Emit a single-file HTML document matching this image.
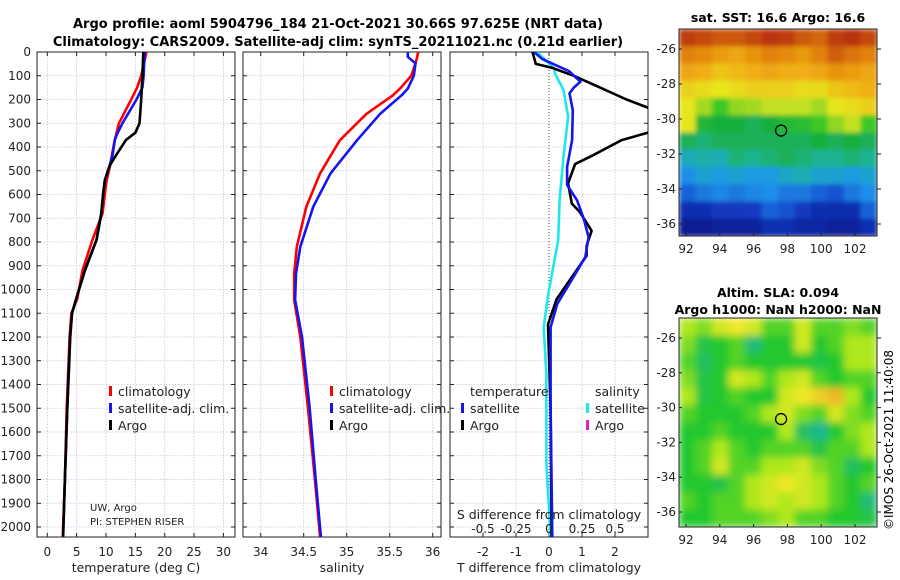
<!DOCTYPE html>
<html><head><meta charset="utf-8"><style>
html,body{margin:0;padding:0;background:#fff;}
svg{display:block;font-family:"DejaVu Sans","Liberation Sans",sans-serif;}
</style></head><body>
<svg id="c" width="900" height="580" viewBox="0 0 900 580">
<defs>
<clipPath id="cp1"><rect x="37" y="52" width="198" height="485"/></clipPath>
<clipPath id="cp2"><rect x="243" y="52" width="198" height="485"/></clipPath>
<clipPath id="cp3"><rect x="450" y="52" width="198" height="485"/></clipPath>
<clipPath id="cm1"><rect x="679" y="29" width="198" height="207"/></clipPath>
<clipPath id="cm2"><rect x="679" y="318" width="198" height="209"/></clipPath>
<filter id="b1" x="0" y="0" width="1" height="1"><feGaussianBlur stdDeviation="2.5" edgeMode="duplicate"/></filter>
<filter id="b2" x="0" y="0" width="1" height="1"><feGaussianBlur stdDeviation="4" edgeMode="duplicate"/></filter>
</defs>
<text x="338" y="28" text-anchor="middle" font-size="13" font-weight="bold">Argo profile: aoml 5904796_184 21-Oct-2021 30.66S 97.625E (NRT data)</text>
<text x="338" y="46" text-anchor="middle" font-size="13" font-weight="bold">Climatology: CARS2009. Satellite-adj clim: synTS_20211021.nc (0.21d earlier)</text>
<text x="778" y="22" text-anchor="middle" font-size="12.5" font-weight="bold">sat. SST: 16.6 Argo: 16.6</text>
<text x="778" y="297" text-anchor="middle" font-size="12.5" font-weight="bold">Altim. SLA: 0.094</text>
<text x="778" y="314" text-anchor="middle" font-size="12.5" font-weight="bold">Argo h1000: NaN h2000: NaN</text>
<text transform="translate(893,440) rotate(-90)" text-anchor="middle" font-size="12">©IMOS 26-Oct-2021 11:40:08</text>
<g id="g"></g>
</svg>
<script>
// ---- data ----
const tDepth   = [0,100,150,200,300,340,370,435,480,540,600,680,790,920,1040,1100,1200,1500,1800,2000,2040];
const tClim    = [16.9,16.0,15.3,14.3,12.2,11.8,11.5,11.0,10.7,10.1,9.8,9.4,7.7,6.0,5.1,4.1,3.8,3.3,3.0,2.7,2.65];
const tSat     = [16.6,16.4,16.2,15.2,12.8,12.0,11.5,11.1,10.6,9.8,9.5,9.2,8.4,6.4,4.9,4.2,3.9,3.4,3.0,2.75,2.7];
const tArgo    = [16.35,16.2,16.1,16.0,15.7,15.0,13.4,11.7,10.6,9.8,9.5,9.2,8.4,6.4,4.9,4.2,3.9,3.4,3.0,2.75,2.7];
const sDepth   = [0,20,48,100,154,182,260,372,512,652,820,933,1044,1200,1500,1800,2000,2040];
const sClim    = [35.83,35.82,35.8,35.75,35.62,35.54,35.23,34.92,34.69,34.53,34.42,34.39,34.39,34.46,34.55,34.63,34.68,34.69];
const sSat     = [35.71,35.71,35.8,35.78,35.71,35.64,35.39,35.12,34.81,34.61,34.46,34.41,34.4,34.48,34.57,34.64,34.69,34.7];
const dDepth   = [0,30,55,80,125,150,174,245,371,484,560,624,700,779,863,934,1060,1159,1500,2040];
const dTSat    = [-0.45,-0.2,0.2,0.6,0.95,0.75,0.62,0.72,0.7,0.55,0.55,0.85,1.05,1.2,1.1,0.8,0.25,0.05,0.05,0.1];
const dADepth  = [0,50,67,100,150,200,245,332,371,435,472,553,638,675,753,816,858,928,1041,1147,1500,2040];
const dTArgo   = [-0.5,-0.4,0.1,0.75,1.55,2.35,3.2,3.2,2.2,1.33,0.79,0.58,0.69,0.94,1.29,1.14,1.14,0.79,0.23,-0.03,0.05,0.08];
const dSDepth  = [0,70,90,160,272,441,624,793,1018,1159,1357,1737,1920,2040];
const dSSat    = [-0.09,0.04,0.045,0.11,0.145,0.11,0.08,0.07,-0.005,-0.04,-0.02,-0.02,0,0.01];
const depthTicks = [0,100,200,300,400,500,600,700,800,900,1000,1100,1200,1300,1400,1500,1600,1700,1800,1900,2000];
const tTicks = [0,5,10,15,20,25,30];
const sTicks = [34,34.5,35,35.5,36];
const sTickLabels = ["34","34.5","35","35.5","36"];
const dTicks = [-2,-1,0,1,2];
const dsTicks = [-0.5,-0.25,0,0.25,0.5];
const lonTicks = [92,94,96,98,100,102];
const latTicks = [-26,-28,-30,-32,-34,-36];
const argoLon = 97.625, argoLat = -30.66;
const sstGrid = [
[.9,.88,.86,.86,.88,.92,.9,.86,.84,.9,.93,.88],
[.8,.78,.74,.72,.76,.8,.78,.75,.8,.85,.82,.8],
[.72,.7,.66,.68,.7,.72,.7,.7,.72,.76,.74,.72],
[.64,.62,.6,.62,.64,.64,.64,.62,.62,.66,.68,.7],
[.6,.56,.5,.55,.56,.58,.58,.58,.56,.6,.62,.64],
[.6,.44,.42,.42,.4,.42,.45,.46,.5,.55,.58,.5],
[.4,.38,.4,.4,.4,.4,.4,.4,.42,.4,.42,.4],
[.32,.34,.33,.38,.36,.38,.4,.38,.36,.36,.38,.36],
[.26,.3,.28,.3,.28,.28,.31,.33,.3,.3,.28,.3],
[.2,.23,.25,.23,.25,.26,.23,.23,.2,.18,.23,.26],
[.1,.1,.13,.13,.14,.2,.18,.13,.1,.1,.1,.2],
[.03,.03,.05,.05,.05,.1,.1,.07,.07,.05,.05,.1]];
const slaGrid = [
[.8,.7,.9,1,.9,.6,.6,.9,.6,.6,.7,.6],
[.7,.4,.5,.6,.2,.5,.5,.9,.5,.6,.8,.8],
[.6,.3,.5,.6,.5,.5,.5,.5,.4,.5,.8,.8],
[.7,.4,.5,.9,.8,.6,.8,.9,.6,.5,.6,.6],
[.8,.4,.5,.6,.5,.5,.9,1,1.1,1.2,.8,.5],
[.6,.5,.5,.5,.6,.8,.9,.7,.6,.9,.7,.6],
[.5,.5,.6,.5,.5,.5,.8,.3,.1,.5,.7,.8],
[.5,.6,.8,.6,.5,.6,.6,.6,.4,.6,.6,.8],
[.5,.6,.9,.6,.6,.8,.8,.9,.7,.6,.3,.5],
[.5,.5,.4,.6,.8,.9,1,.9,.8,.6,.5,.6],
[.6,.5,.6,.6,.8,.9,.8,.9,.8,.6,.5,.2],
[.5,.5,.6,.6,.6,.7,.8,.6,.6,.5,.5,.4]];

// ---- axes ----
const yD = d => 52 + d*0.2375;
const xT = v => 47.3 + v*5.87;
const xS = v => 260.7 + (v-34)*86;
const xDT = v => 549 + v*33;
const xDS = v => xDT(v*4);
const NS = "http://www.w3.org/2000/svg";
const G = document.getElementById('g');
function el(tag, attrs, parent, txt){
  const e = document.createElementNS(NS, tag);
  for (const k in attrs) e.setAttribute(k, attrs[k]);
  if (txt !== undefined) e.textContent = txt;
  (parent||G).appendChild(e); return e;
}

const panels = [
 {x0:37, name:'temperature', ticks:tTicks, fx:xT, labels:tTicks.map(String)},
 {x0:243, name:'salinity', ticks:sTicks, fx:xS, labels:sTickLabels},
 {x0:450, name:'difference', ticks:dTicks, fx:xDT, labels:dTicks.map(String)}
];
panels.forEach((p, i) => {
  const g = el('g', {});
  
  
  depthTicks.forEach(d => {
    const l = el('line', {x1:p.x0, x2:p.x0+198, y1:yD(d), y2:yD(d), stroke:'#c4c4dc', 'stroke-width':0.8, 'stroke-dasharray':'1.5,1.5'}, g);
    
    
    el('line', {x1:p.x0, x2:p.x0+4, y1:yD(d), y2:yD(d), stroke:'#222'}, g);
    el('line', {x1:p.x0+198, x2:p.x0+194, y1:yD(d), y2:yD(d), stroke:'#222'}, g);
  });
  p.ticks.forEach((t, j) => {
    const x = p.fx(t);
    if (!(i===2 && t===0)) {
      const l = el('line', {x1:x, x2:x, y1:52, y2:537, stroke:'#c4c4dc', 'stroke-width':0.8, 'stroke-dasharray':'1.5,1.5'}, g);
      
      
    }
    el('line', {x1:x, x2:x, y1:537, y2:533, stroke:'#222'}, g);
    el('line', {x1:x, x2:x, y1:52, y2:56, stroke:'#222'}, g);
    const tl = el('text', {x:x, y:556, 'text-anchor':'middle', 'font-size':12, fill:'#222'}, g, p.labels[j]);
    
    
  });
  const box = el('rect', {x:p.x0, y:52, width:198, height:485, fill:'none', stroke:'#222', 'stroke-width':1}, g);
  
  
});
depthTicks.forEach(d => {
  const t = el('text', {x:31, y:yD(d)+4, 'text-anchor':'end', 'font-size':12, fill:'#222'}, G, String(d));
  
  
});
const zl = el('line', {x1:xDT(0), x2:xDT(0), y1:52, y2:537, stroke:'#444', 'stroke-width':1, 'stroke-dasharray':'1,2'});



function line(xs, ds, fx, color, clip, name){
  const pts = xs.map((v,k) => fx(v).toFixed(1)+','+yD(ds[k]).toFixed(1)).join(' ');
  const pl = el('polyline', {points:pts, fill:'none', stroke:color, 'stroke-width':2.6, 'stroke-linejoin':'round', 'clip-path':'url(#'+clip+')'});
  
  
}
line(tClim, tDepth, xT, '#f00', 'cp1', 'temp-climatology-line');
line(tSat, tDepth, xT, '#1515f0', 'cp1', 'temp-satellite-line');
line(tArgo, tDepth, xT, '#000', 'cp1', 'temp-argo-line');
line(sClim, sDepth, xS, '#f00', 'cp2', 'sal-climatology-line');
line(sSat, sDepth, xS, '#1515f0', 'cp2', 'sal-satellite-line');
line(dSSat, dSDepth, xDS, '#1ee6ee', 'cp3', 'sdiff-satellite-line');
line(dTArgo, dADepth, xDT, '#000', 'cp3', 'tdiff-argo-line');
line(dTSat, dDepth, xDT, '#1515f0', 'cp3', 'tdiff-satellite-line');

const sdl = el('text', {x:549, y:519, 'text-anchor':'middle', 'font-size':12.5, fill:'#222'}, G, 'S difference from climatology');


dsTicks.forEach(t => {
  const tt = el('text', {x:xDS(t), y:533, 'text-anchor':'middle', 'font-size':12, fill:'#222'}, G, String(t));
  
  
});
[['temperature (deg C)',136,'temperature-axis-title'],['salinity',342,'salinity-axis-title'],['T difference from climatology',549,'t-diff-axis-title']].forEach(a => {
  const t = el('text', {x:a[1], y:572, 'text-anchor':'middle', 'font-size':12.5, fill:'#222'}, G, a[0]);
  
  
});
const uw = el('text', {x:90, y:511, 'font-size':10, fill:'#222'}, G, 'UW, Argo');


const pi = el('text', {x:90, y:525, 'font-size':10, fill:'#222'}, G, 'PI: STEPHEN RISER');



function legend(x, y, color, label){
  const g = el('g', {});
  
  
  if (color) el('rect', {x:x, y:y-10, width:3, height:10, fill:color}, g);
  el('text', {x:x+9, y:y, 'font-size':12.5, fill:'#222'}, g, label);
}
legend(109, 396, '#f00', 'climatology');
legend(109, 413, '#1515f0', 'satellite-adj. clim.');
legend(109, 430, '#000', 'Argo');
legend(330, 396, '#f00', 'climatology');
legend(330, 413, '#1515f0', 'satellite-adj. clim.');
legend(330, 430, '#000', 'Argo');
legend(461, 396, null, 'temperature');
legend(461, 413, '#1515f0', 'satellite');
legend(461, 430, '#000', 'Argo');
legend(586, 396, null, 'salinity');
legend(586, 413, '#1ee6ee', 'satellite');
legend(586, 430, '#e020c0', 'Argo');

// ---- maps ----
function ramp(stops, v){
  if (v <= stops[0][0]) return 'rgb('+stops[0][1].join(',')+')';
  for (let k=1;k<stops.length;k++){
    if (v<=stops[k][0] || k===stops.length-1){
      const a=stops[k-1], b=stops[k]; const t=Math.max(0,Math.min(1,(v-a[0])/(b[0]-a[0])));
      return 'rgb('+a[1].map((c,i)=>Math.round(c+(b[1][i]-c)*t)).join(',')+')';
    }
  }
}
const sstStops = [[0,[10,20,130]],[0.15,[20,60,200]],[0.27,[30,150,235]],[0.35,[30,180,160]],[0.42,[25,175,60]],[0.5,[60,200,40]],[0.6,[230,230,30]],[0.7,[240,175,20]],[0.8,[225,130,10]],[0.9,[190,60,10]],[1,[170,20,10]]];
const slaStops = [[0,[30,180,170]],[0.5,[35,200,45]],[0.8,[175,232,30]],[1,[240,232,40]],[1.3,[240,160,40]]];
const sstCol = v => ramp(sstStops, v);
const slaCol = v => ramp(slaStops, v);
function map(grid, x0, y0, w, h, colf, filt, clip, name, lonX, latY){
  const outer = el('g', {'clip-path':'url(#'+clip+')'});
  
  
  const g = el('g', {filter:'url(#'+filt+')'}, outer);
  const rows = grid.length, cols = grid[0].length;
  const cw = w/cols, ch = h/rows;
  grid.forEach((row, r) => row.forEach((v, c) => {
    const cell = el('rect', {x:x0+c*cw, y:y0+r*ch, width:cw+0.6, height:ch+0.6, fill:colf(v)}, g);
    
    
  }));
  el('rect', {x:x0, y:y0, width:w, height:h, fill:'none', stroke:'#222'}, G);
  const mk = el('circle', {cx:lonX(argoLon), cy:latY(argoLat), r:5.5, fill:'none', stroke:'#000', 'stroke-width':1.3});
  
  
  lonTicks.forEach(l => {
    const x = lonX(l);
    el('line', {x1:x, x2:x, y1:y0+h, y2:y0+h-3, stroke:'#222'});
    const t = el('text', {x:x, y:y0+h+17, 'text-anchor':'middle', 'font-size':12, fill:'#222'}, G, String(l));
    
    
  });
  latTicks.forEach(l => {
    const y = latY(l);
    el('line', {x1:x0, x2:x0+3, y1:y, y2:y, stroke:'#222'});
    el('line', {x1:x0+w, x2:x0+w+4, y1:y, y2:y, stroke:'#222'});
    const t = el('text', {x:x0-3, y:y+4, 'text-anchor':'end', 'font-size':12, fill:'#222'}, G, String(l));
    
    
  });
}
const lonX = l => 686 + (l-92)*16.9;
map(sstGrid, 679, 29, 198, 207, sstCol, 'b1', 'cm1', 'sst-map', lonX, l => 49 + (-26-l)*17.5);
map(slaGrid, 679, 318, 198, 209, slaCol, 'b2', 'cm2', 'sla-map', lonX, l => 338 + (-26-l)*17.4);
</script>
</body></html>
